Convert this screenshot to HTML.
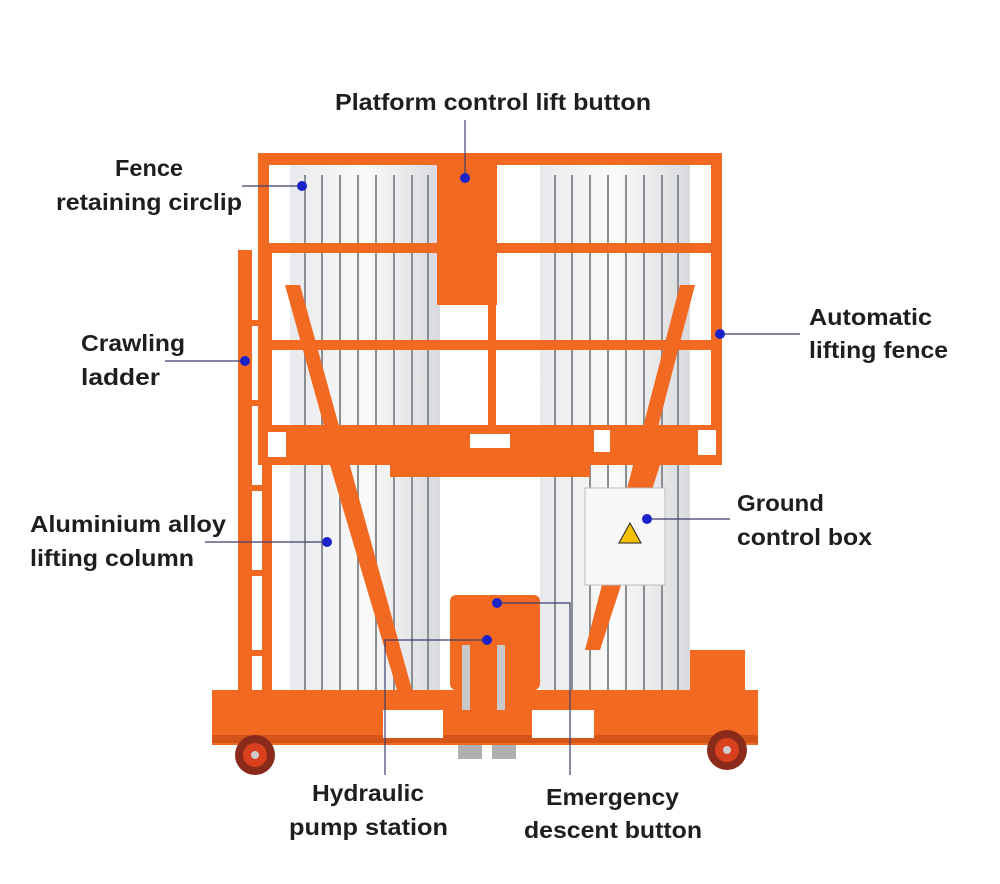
<!DOCTYPE html>
<html><head><meta charset="utf-8"><style>
html,body{margin:0;padding:0;background:#fff;}
#c{position:relative;width:1000px;height:884px;overflow:hidden;font-family:"Liberation Sans","Noto Sans CJK SC",sans-serif;}
svg{position:absolute;left:0;top:0;}
</style></head><body><div id="c">
<svg width="1000" height="884" viewBox="0 0 1000 884">
<defs>
<linearGradient id="al" x1="0" x2="1">
<stop offset="0" stop-color="#e8e9ec"/><stop offset="0.5" stop-color="#fafafa"/><stop offset="1" stop-color="#d8dadd"/>
</linearGradient>
</defs>
<rect x="290" y="165" width="150" height="535" fill="url(#al)"/>
<rect x="540" y="165" width="150" height="535" fill="url(#al)"/>
<g stroke="#8a8d92" stroke-width="2">
<line x1="305" y1="175" x2="305" y2="695"/><line x1="322" y1="175" x2="322" y2="695"/><line x1="340" y1="175" x2="340" y2="695"/><line x1="358" y1="175" x2="358" y2="695"/><line x1="376" y1="175" x2="376" y2="695"/><line x1="394" y1="175" x2="394" y2="695"/><line x1="412" y1="175" x2="412" y2="695"/><line x1="428" y1="175" x2="428" y2="695"/>
<line x1="555" y1="175" x2="555" y2="695"/><line x1="572" y1="175" x2="572" y2="695"/><line x1="590" y1="175" x2="590" y2="695"/><line x1="608" y1="175" x2="608" y2="695"/><line x1="626" y1="175" x2="626" y2="695"/><line x1="644" y1="175" x2="644" y2="695"/><line x1="662" y1="175" x2="662" y2="695"/><line x1="678" y1="175" x2="678" y2="695"/>
</g>
<g fill="#f26a22">
<rect x="258" y="153" width="464" height="12"/>
<rect x="258" y="153" width="11" height="312"/>
<rect x="711" y="153" width="11" height="312"/>
<rect x="262" y="243" width="456" height="10"/>
<rect x="262" y="340" width="456" height="10"/>
<rect x="488" y="153" width="8" height="310"/>
<rect x="437" y="157" width="60" height="148"/>
<rect x="258" y="425" width="464" height="40"/>
<rect x="390" y="465" width="200" height="12"/>
<rect x="238" y="250" width="14" height="450"/>
<rect x="262" y="250" width="10" height="450"/>
<rect x="250" y="320" width="14" height="6"/><rect x="250" y="400" width="14" height="6"/><rect x="250" y="485" width="14" height="6"/><rect x="250" y="570" width="14" height="6"/><rect x="250" y="650" width="14" height="6"/>
<polygon points="285,285 300,285 412,690 397,690"/>
<polygon points="330,465 345,465 412,690 397,690"/>
<polygon points="680,285 695,285 600,650 585,650"/>
<polygon points="645,465 660,465 600,650 585,650"/>
<rect x="450" y="595" width="90" height="95" rx="6"/>
<rect x="212" y="690" width="546" height="55"/>
<rect x="690" y="650" width="55" height="45"/>
</g>
<rect x="212" y="735" width="546" height="8" fill="#d4551a"/>
<rect x="383" y="710" width="60" height="28" fill="#fff"/>
<rect x="532" y="710" width="62" height="28" fill="#fff"/>
<rect x="470" y="434" width="40" height="14" fill="#fff"/>
<rect x="594" y="430" width="16" height="22" fill="#fff"/>
<rect x="268" y="432" width="18" height="25" fill="#fff"/>
<rect x="698" y="430" width="18" height="25" fill="#fff"/>
<rect x="462" y="645" width="8" height="65" fill="#c9c9c9"/>
<rect x="497" y="645" width="8" height="65" fill="#c9c9c9"/>
<rect x="458" y="745" width="24" height="14" fill="#b0b0b0"/>
<rect x="492" y="745" width="24" height="14" fill="#b0b0b0"/>
<rect x="585" y="488" width="80" height="97" fill="#f7f7f7" stroke="#bbb"/>
<polygon points="630,523 619,543 641,543" fill="#f5c000" stroke="#222"/>
<circle cx="255" cy="755" r="20" fill="#8a2a1a"/><circle cx="255" cy="755" r="12" fill="#d8401e"/><circle cx="255" cy="755" r="4" fill="#ccc"/>
<circle cx="727" cy="750" r="20" fill="#8a2a1a"/><circle cx="727" cy="750" r="12" fill="#d8401e"/><circle cx="727" cy="750" r="4" fill="#ccc"/>
<g stroke="#3a3f6e" stroke-width="1.2" fill="none">
<line x1="465" y1="120" x2="465" y2="178"/>
<line x1="242" y1="186" x2="302" y2="186"/>
<line x1="165" y1="361" x2="245" y2="361"/>
<line x1="720" y1="334" x2="800" y2="334"/>
<line x1="647" y1="519" x2="730" y2="519"/>
<line x1="205" y1="542" x2="327" y2="542"/>
<polyline points="487,640 385,640 385,775"/>
<polyline points="497,603 570,603 570,775"/>
</g>
<g fill="#1a22c8">
<circle cx="465" cy="178" r="5"/><circle cx="302" cy="186" r="5"/><circle cx="245" cy="361" r="5"/><circle cx="720" cy="334" r="5"/><circle cx="647" cy="519" r="5"/><circle cx="327" cy="542" r="5"/><circle cx="487" cy="640" r="5"/><circle cx="497" cy="603" r="5"/>
</g>
<g font-family="Liberation Sans, sans-serif" font-size="23" font-weight="bold" fill="#1e1e1e" lengthAdjust="spacingAndGlyphs">
<text x="335" y="110" textLength="316" lengthAdjust="spacingAndGlyphs">Platform control lift button</text>
<text x="115" y="176" textLength="68" lengthAdjust="spacingAndGlyphs">Fence</text>
<text x="56" y="210" textLength="186" lengthAdjust="spacingAndGlyphs">retaining circlip</text>
<text x="81" y="351" textLength="104" lengthAdjust="spacingAndGlyphs">Crawling</text>
<text x="81" y="385" textLength="79" lengthAdjust="spacingAndGlyphs">ladder</text>
<text x="809" y="325" textLength="123" lengthAdjust="spacingAndGlyphs">Automatic</text>
<text x="809" y="358" textLength="139" lengthAdjust="spacingAndGlyphs">lifting fence</text>
<text x="737" y="511" textLength="87" lengthAdjust="spacingAndGlyphs">Ground</text>
<text x="737" y="545" textLength="135" lengthAdjust="spacingAndGlyphs">control box</text>
<text x="30" y="532" textLength="196" lengthAdjust="spacingAndGlyphs">Aluminium alloy</text>
<text x="30" y="566" textLength="164" lengthAdjust="spacingAndGlyphs">lifting column</text>
<text x="312" y="801" textLength="112" lengthAdjust="spacingAndGlyphs">Hydraulic</text>
<text x="289" y="835" textLength="159" lengthAdjust="spacingAndGlyphs">pump station</text>
<text x="546" y="805" textLength="133" lengthAdjust="spacingAndGlyphs">Emergency</text>
<text x="524" y="838" textLength="178" lengthAdjust="spacingAndGlyphs">descent button</text>
</g>
</svg>
</div></body></html>
